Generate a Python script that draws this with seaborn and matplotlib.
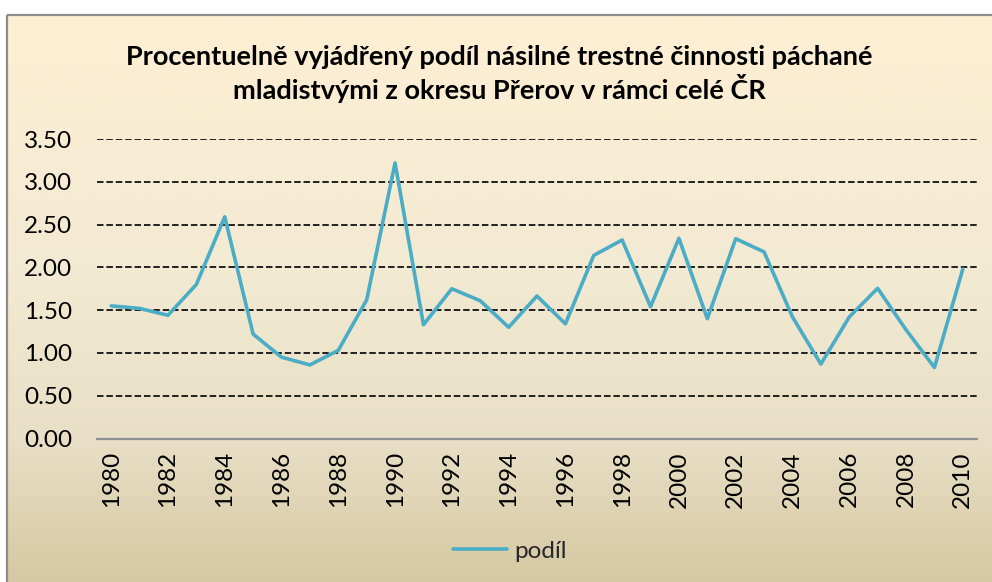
import numpy as np
import pandas as pd
import matplotlib
matplotlib.use("Agg")
import matplotlib.pyplot as plt
from matplotlib.colors import LinearSegmentedColormap
from matplotlib.patches import Rectangle
import seaborn as sns

# Share of violent juvenile crime from the Přerov district within the whole Czech Republic (%)
years = list(range(1980, 2011))
podil = [1.55, 1.52, 1.44, 1.80, 2.59, 1.22, 0.95, 0.86, 1.03, 1.62,
         3.22, 1.33, 1.75, 1.61, 1.30, 1.665, 1.34, 2.14, 2.32, 1.54,
         2.34, 1.40, 2.335, 2.18, 1.42, 0.87, 1.42, 1.755, 1.27, 0.83,
         1.98]
y_ticks = [0.0, 0.5, 1.0, 1.5, 2.0, 2.5, 3.0, 3.5]
x_ticks = list(range(1980, 2011, 2))
title = ("Procentuelně vyjádřený podíl násilné trestné činnosti páchané\n"
         "mladistvými z okresu Přerov v rámci celé ČR")
series_name = "podíl"

df = pd.DataFrame({"rok": years, "hodnota": podil, "řada": series_name})

sns.set_theme(style="white")
plt.rcParams["font.family"] = ["Lato", "DejaVu Sans"]

W, H, DPI = 992, 582, 100
fig = plt.figure(figsize=(W / DPI, H / DPI), dpi=DPI)
fig.patch.set_facecolor("white")

# Chart area background: vertical parchment gradient with a grey frame
bg = fig.add_axes([0, 0, 1, 1], zorder=-5)
bg.set_xlim(0, W)
bg.set_ylim(H, 0)
bg.axis("off")
cmap = LinearSegmentedColormap.from_list(
    "parchment",
    [(0.0, "#fdefd3"), (0.45, "#f3ead3"), (0.75, "#e8dfc6"), (1.0, "#d6c8a2")])
grad = np.linspace(0, 1, 256).reshape(-1, 1)
bg.imshow(grad, cmap=cmap, aspect="auto", extent=(7, W + 5, H, 15),
          interpolation="bicubic", zorder=0)
bg.add_patch(Rectangle((7, 15), W, H, fill=False, edgecolor="#8c8c8c",
                       linewidth=1.6, zorder=1))

# Plot area
left, right = 97 / W, 977 / W
bottom, top = 1 - 438.5 / H, 1 - 139 / H
ax = fig.add_axes([left, bottom, right - left, top - bottom])
ax.set_facecolor("none")

sns.lineplot(data=df, x="rok", y="hodnota", hue="řada",
             palette=["#4bacc6"], linewidth=2.6, ax=ax, legend=False,
             zorder=3)

ax.set_xlim(1979.5, 2010.5)
ax.set_ylim(0, 3.5)
ax.set_yticks(y_ticks)
ax.set_yticklabels([f"{v:.2f}" for v in y_ticks], fontsize=17.5)
ax.set_xticks(x_ticks)
ax.set_xticklabels([str(y) for y in x_ticks], rotation=90, fontsize=17.5)
ax.tick_params(axis="both", length=0, colors="black")
ax.tick_params(axis="y", pad=18)
ax.tick_params(axis="x", pad=9)
ax.set_xlabel("")
ax.set_ylabel("")

ax.yaxis.grid(True, color="#111111", linewidth=1.3, linestyle=(0, (3.6, 1.6)))
ax.xaxis.grid(False)
ax.yaxis.get_gridlines()[0].set_visible(False)
ax.set_axisbelow(True)

for side in ("left", "right", "top"):
    ax.spines[side].set_visible(False)
ax.spines["bottom"].set_color("#8e9196")
ax.spines["bottom"].set_linewidth(1.6)

fig.text(499 / W, 1 - 74 / H, title, ha="center", va="center",
         fontsize=19.5, fontweight="bold", linespacing=1.22, color="black")

# Legend
handle = plt.Line2D([], [], color="#4bacc6", linewidth=2.6)
fig.legend([handle], [series_name], loc="center", bbox_to_anchor=(510 / W, 1 - 551 / H),
           frameon=False, fontsize=17.5, handlelength=2.2, handletextpad=0.3)

fig.savefig("out.png", dpi=DPI)
